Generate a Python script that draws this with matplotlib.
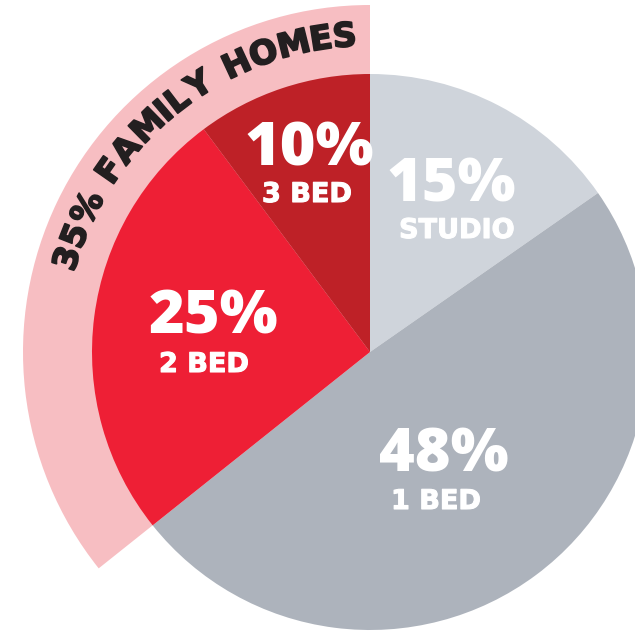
import matplotlib
matplotlib.use("Agg")
import matplotlib.pyplot as plt
from matplotlib.patches import Wedge
from matplotlib.textpath import TextPath
from matplotlib.font_manager import FontProperties
import matplotlib.patheffects as pe
import numpy as np

# ---- data ----
categories = ["STUDIO", "1 BED", "2 BED", "3 BED"]
values = [15, 48, 25, 10]
colors = ["#CFD4DB", "#ADB3BC", "#EE1F35", "#BE2127"]
family_label = "35% FAMILY HOMES"
ring_color = "#F7BEC2"
text_dark = "#231F20"

W, H = 635, 631
fig = plt.figure(figsize=(W / 100, H / 100), dpi=100)
ax = fig.add_axes([0, 0, 1, 1])

cx, cy = 370, H - 352
R = 278
R_ring = 347

total = sum(values)
# family ring spans 2 BED + 3 BED (end of the pie, clockwise from top)
start_frac = sum(values[:2]) / total
theta_start = (90 - 360 * start_frac) % 360
ax.add_patch(Wedge((cx, cy), R_ring, 90, theta_start,
                   facecolor=ring_color, lw=0, zorder=0))

wedges, _ = ax.pie(values, colors=colors, startangle=90, counterclock=False,
                   center=(cx, cy), radius=R, wedgeprops=dict(linewidth=0), frame=False)
for w in wedges:
    w.set_zorder(1)

big_font, big_w = "Open Sans", "heavy"
small_font, small_w = "DejaVu Sans", "bold"

# labels: (big text center px, small text center px)
label_pos = {
    "STUDIO": ((451, 185), (457, 231)),
    "1 BED": ((444, 455), (436, 502)),
    "2 BED": ((213, 318), (204, 365)),
    "3 BED": ((309, 150), (307, 195)),
}
for cat, val in zip(categories, values):
    (bx, by), (sx, sy) = label_pos[cat]
    ax.text(bx, H - by, f"{val}%", color="white", fontsize=44, fontweight=big_w,
            family=big_font, ha="center", va="center", zorder=3)
    ax.text(sx, H - sy, cat, color="white", fontsize=19.5, fontweight=small_w,
            family=small_font, ha="center", va="center", zorder=3,
            path_effects=[pe.withStroke(linewidth=0.8, foreground="white")])

# curved family label
fs = 24
fp = FontProperties(family="DejaVu Sans", weight="bold", size=fs)
widths = []
for ch in family_label:
    if ch == " ":
        wpt = fs * 0.25
    else:
        wpt = TextPath((0, 0), ch, prop=fp).get_extents().width
    widths.append(wpt * 100 / 72)
r_text = 316
th_a, th_b = np.deg2rad(162.8), np.deg2rad(94.6)  # centres of first / last char
span = (th_a - th_b) * r_text
inner = sum(widths) - widths[0] / 2 - widths[-1] / 2
gap = (span - inner) / (len(widths) - 1)
s = 0.0
for i, (ch, wpx) in enumerate(zip(family_label, widths)):
    if i > 0:
        s += widths[i - 1] / 2 + gap + wpx / 2
    th = th_a - s / r_text
    x = cx + r_text * np.cos(th)
    y = cy + r_text * np.sin(th)
    ax.text(x, y, ch, color=text_dark, fontproperties=fp, ha="center", va="center",
            rotation=np.rad2deg(th) - 90, rotation_mode="anchor", zorder=4,
            path_effects=[pe.withStroke(linewidth=1.3, foreground=text_dark)])

ax.set_xlim(0, W)
ax.set_ylim(0, H)
ax.set_aspect("auto")
ax.axis("off")
fig.savefig("out.png", dpi=100, facecolor="white")
